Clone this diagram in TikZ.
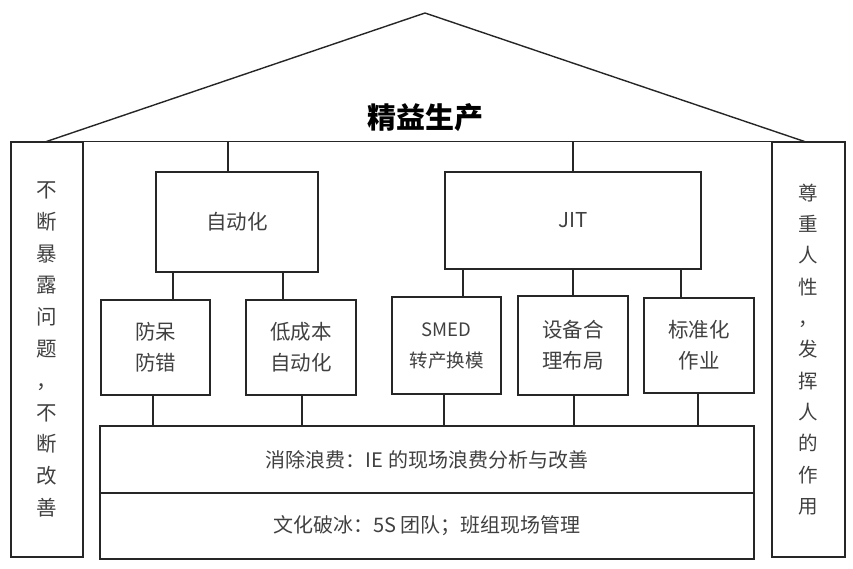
\documentclass[tikz,border=0pt]{standalone}
\usepackage{fontspec}
\setmainfont{Noto Sans CJK SC}
\begin{document}
\begin{tikzpicture}[x=1pt, y=-1pt,
        frame/.style={draw=black!85, line width=1.4pt},
        box/.style={frame, inner sep=0pt, text=black!75, align=center,
            font=\fontsize{20.5}{31}\selectfont},
        link/.style={draw=black!85, line width=1.1pt}]

        \useasboundingbox (0,0) rectangle (853,568);

        % pillars on both sides
        \node[box, minimum width=72, minimum height=415,
            font=\fontsize{20.5}{31.8}\selectfont] (leftp) at (47,349.5)
            {不\\断\\暴\\露\\问\\题\\，\\不\\断\\改\\善};
        \node[box, minimum width=73, minimum height=415,
            font=\fontsize{19.5}{31.3}\selectfont] (rightp) at (808.5,349.5)
            {尊\\重\\人\\性\\，\\发\\挥\\人\\的\\作\\用};

        % roof
        \coordinate (apex) at (425,13);
        \coordinate (eaveL) at (45,142);
        \coordinate (eaveR) at (806,142);
        \draw[frame] (eaveL) -- (apex) -- (eaveR);
        \draw[frame] (leftp.north east) -- (rightp.north west);
        \node[text=black, font=\fontsize{29}{29}\selectfont\bfseries] (title) at (425,118) {精益生产};

        % two main blocks
        \node[box, minimum width=162, minimum height=100] (auto) at (237,222) {自动化};
        \node[box, minimum width=256, minimum height=97] (jit) at (573,220.5) {JIT};

        % tools
        \node[box, minimum width=109, minimum height=95] (fd) at (155.5,347.5) {防呆\\防错};
        \node[box, minimum width=110, minimum height=95] (ld) at (301,347.5) {低成本\\自动化};
        \node[box, minimum width=109, minimum height=97,
            font=\fontsize{18.5}{31}\selectfont] (smed) at (446.5,345.5) {SMED\\转产换模};
        \node[box, minimum width=110, minimum height=99] (sb) at (573,345.5) {设备合\\理布局};
        \node[box, minimum width=110, minimum height=95] (bz) at (699,345.5) {标准化\\作业};

        % foundation
        \node[box, minimum width=654, minimum height=67, font=\fontsize{20}{24}\selectfont] (waste) at (427,459.5)
            {消除浪费：IE 的现场浪费分析与改善};
        \node[box, minimum width=654, minimum height=66, font=\fontsize{20}{24}\selectfont] (culture) at (427,526)
            {文化破冰：5S 团队；班组现场管理};

        % connectors
        \draw[link] ([xshift=-9pt]auto.north) -- ([xshift=-9pt]auto.north |- leftp.north);
        \draw[link] (jit.north) -- (jit.north |- leftp.north);
        \draw[link] ([xshift=17.5pt]fd.north) -- ([xshift=17.5pt]fd.north |- auto.south);
        \draw[link] ([xshift=-18pt]ld.north) -- ([xshift=-18pt]ld.north |- auto.south);
        \draw[link] ([xshift=16.5pt]smed.north) -- ([xshift=16.5pt]smed.north |- jit.south);
        \draw[link] (sb.north) -- (sb.north |- jit.south);
        \draw[link] ([xshift=-18pt]bz.north) -- ([xshift=-18pt]bz.north |- jit.south);
        \draw[link] ([xshift=-2.5pt]fd.south) -- ([xshift=-2.5pt]fd.south |- waste.north);
        \draw[link] ([xshift=1pt]ld.south) -- ([xshift=1pt]ld.south |- waste.north);
        \draw[link] ([xshift=-2.5pt]smed.south) -- ([xshift=-2.5pt]smed.south |- waste.north);
        \draw[link] ([xshift=1pt]sb.south) -- ([xshift=1pt]sb.south |- waste.north);
        \draw[link] ([xshift=-1pt]bz.south) -- ([xshift=-1pt]bz.south |- waste.north);
\end{tikzpicture}
\end{document}
